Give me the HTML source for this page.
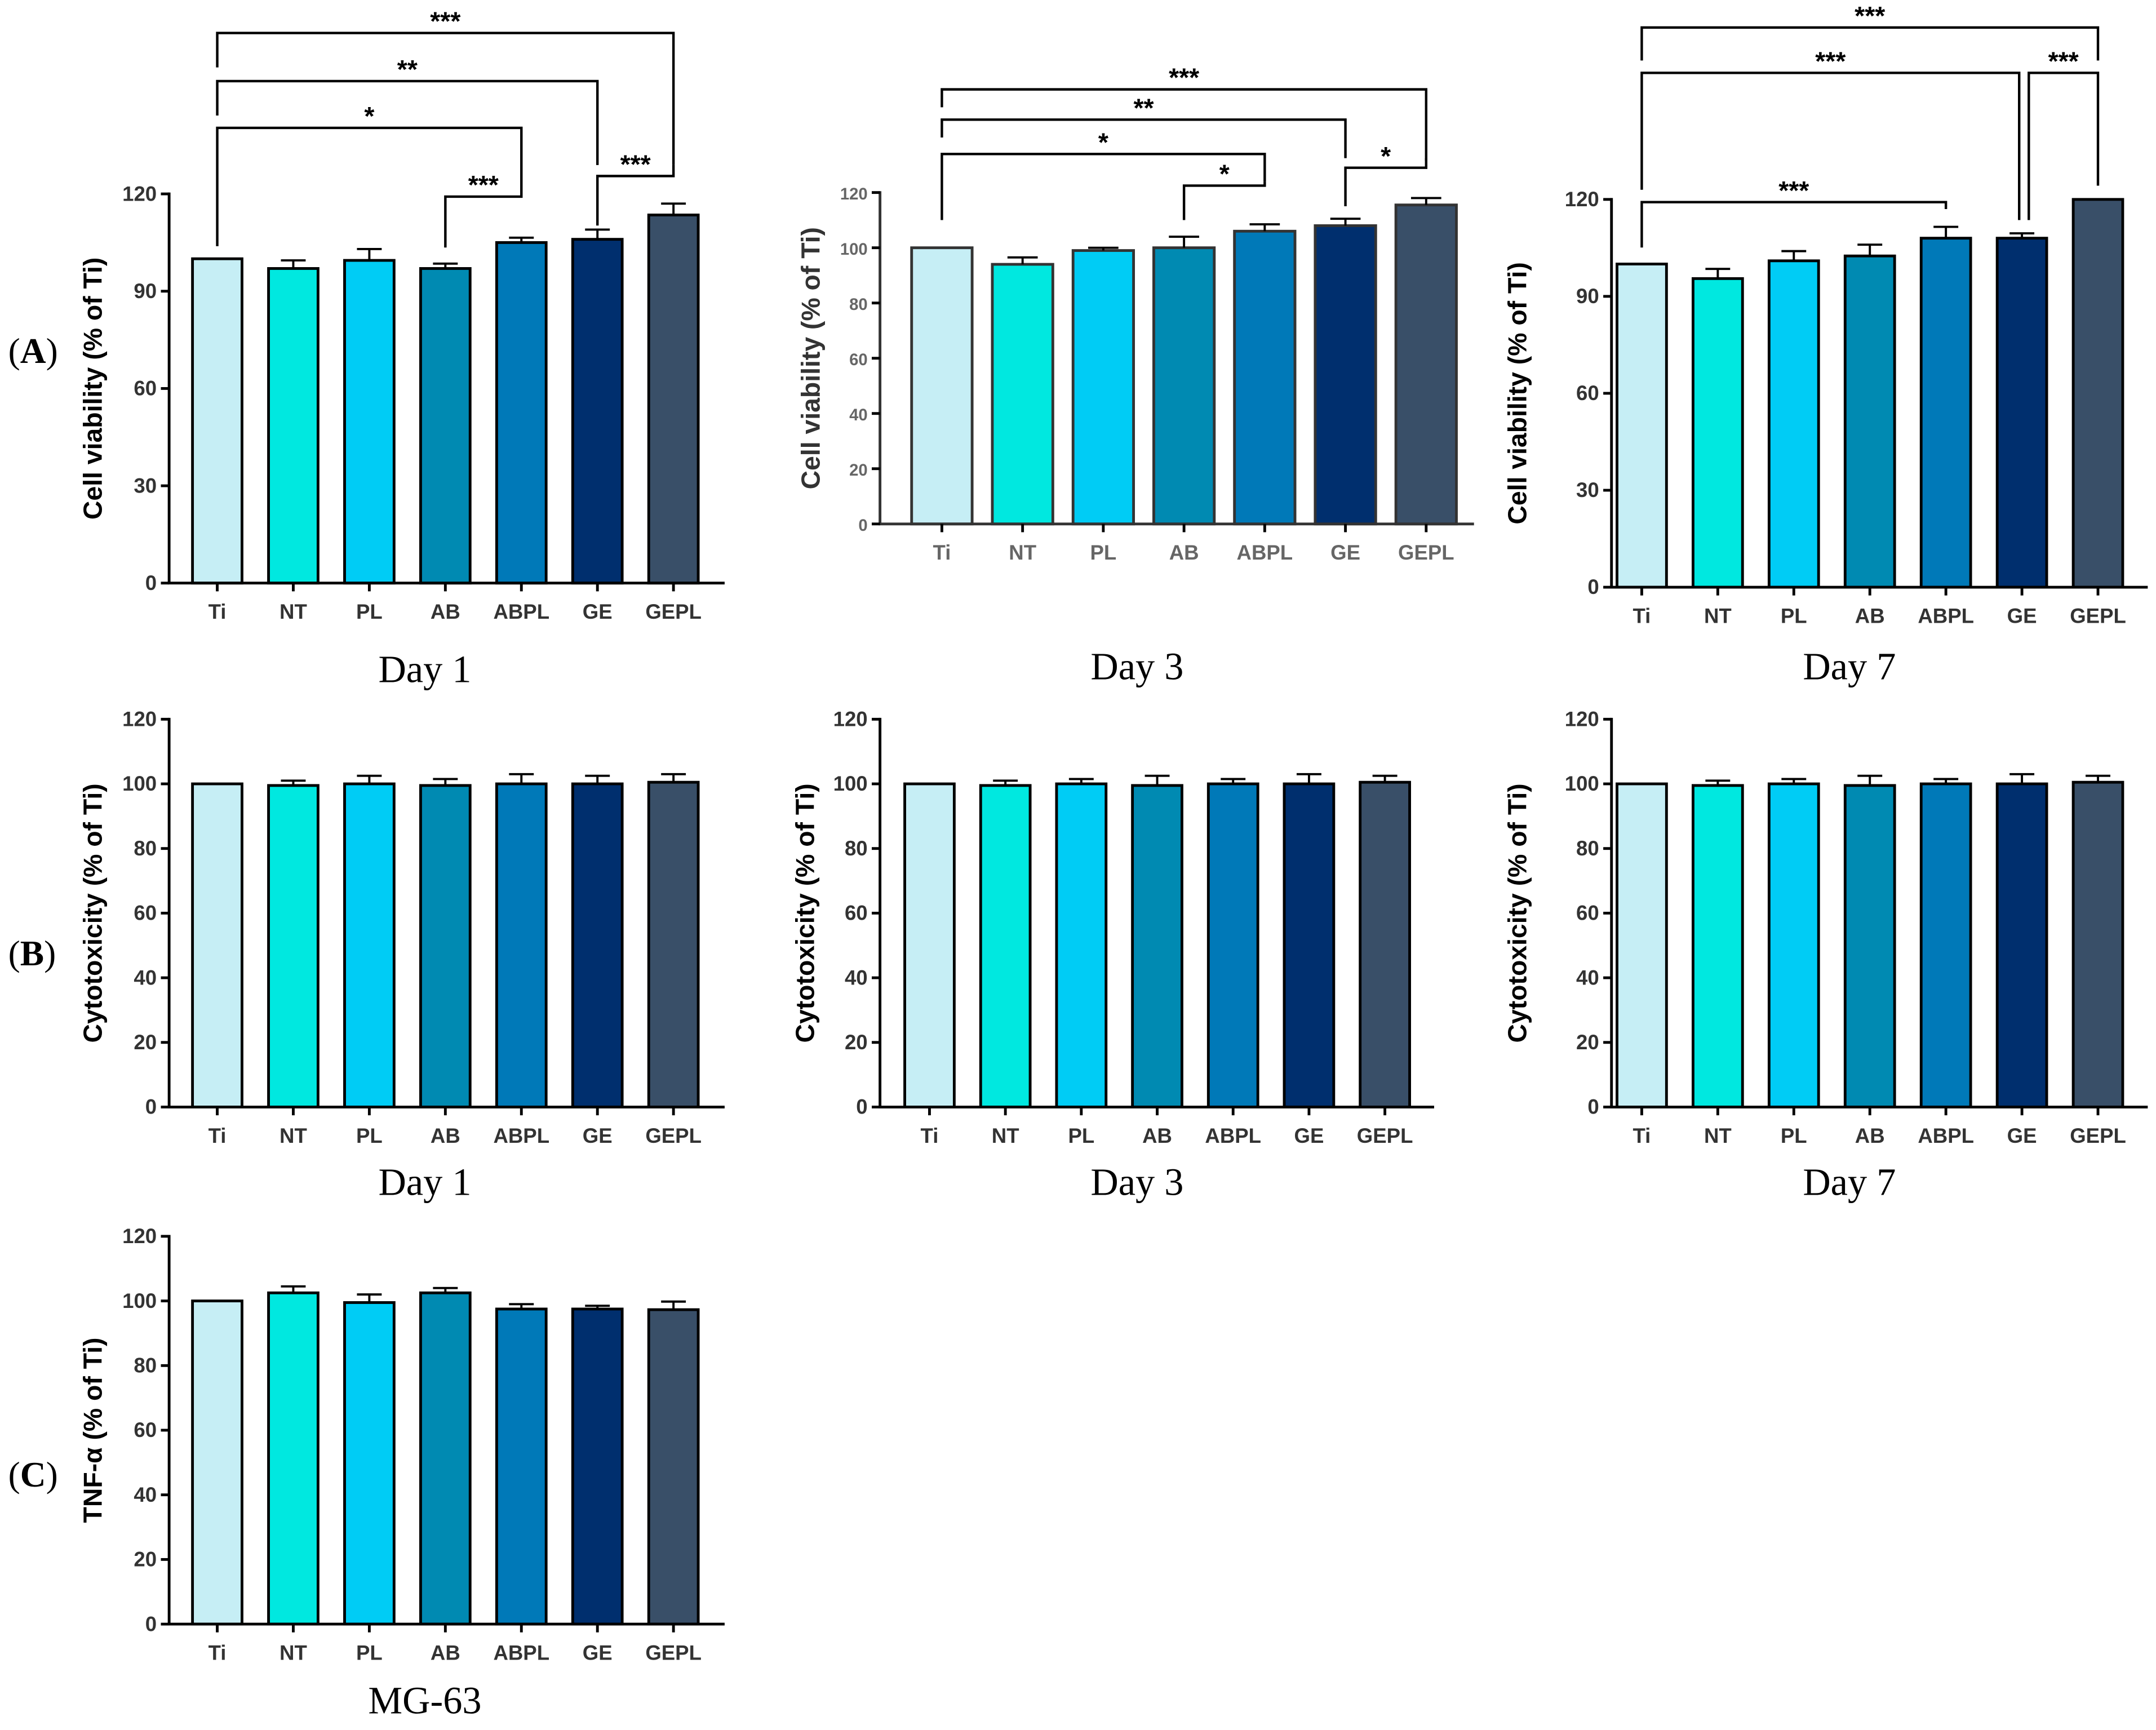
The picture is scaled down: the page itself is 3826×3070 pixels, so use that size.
<!DOCTYPE html>
<html><head><meta charset="utf-8"><style>
html,body{margin:0;padding:0;background:#fff;}
svg{display:block;}
</style></head><body>
<svg id="fig" width="3826" height="3070" viewBox="0 0 1568 1258" preserveAspectRatio="none" xmlns="http://www.w3.org/2000/svg"></svg>
<script>
const categories = ["Ti","NT","PL","AB","ABPL","GE","GEPL"];
const colors = ["#c6eef5","#00e8e0","#00ccf5","#008ab2","#0079b8","#002f6e","#394f68"];
const viabDay1 = [100,97,99.5,97,105,106,113.5];
const viabDay1Err = [0,2.5,3.5,1.5,1.5,3,3.5];
const viabDay3 = [100,94,99,100,106,108,115.5];
const viabDay3Err = [0,2.5,1,4,2.5,2.5,2.5];
const viabDay7 = [100,95.5,101,102.5,108,108,120];
const viabDay7Err = [0,3,3,3.5,3.5,1.5,0];
const cytoDay1 = [100,99.5,100,99.5,100,100,100.5];
const cytoDay1Err = [0,1.5,2.5,2,3,2.5,2.5];
const cytoDay3 = [100,99.5,100,99.5,100,100,100.5];
const cytoDay3Err = [0,1.5,1.5,3,1.5,3,2];
const cytoDay7 = [100,99.5,100,99.5,100,100,100.5];
const cytoDay7Err = [0,1.5,1.5,3,1.5,3,2];
const tnf = [100,102.5,99.5,102.5,97.5,97.5,97.3];
const tnfErr = [0,2,2.5,1.5,1.5,1,2.5];
const ticks30 = [0,30,60,90,120];
const ticks20 = [0,20,40,60,80,100,120];

const NS="http://www.w3.org/2000/svg";
const svg=document.getElementById('fig');
function mk(tag,attrs,parent){const e=document.createElementNS(NS,tag);for(const k in attrs)e.setAttribute(k,attrs[k]);(parent||svg).appendChild(e);return e;}

function chart(o){
  const g=mk('g',{});
  
  
  const y=v=>o.y0-(v/120)*(o.y0-o.y120);
  const x=i=>o.x0+i*o.step;
  const tc=o.blur?'#666':'#333';
  o.vals.forEach((v,i)=>{
    const r=mk('rect',{x:x(i)-o.bw/2,y:y(v),width:o.bw,height:o.y0-y(v),fill:colors[i],stroke:o.blur?'#333':'#000','stroke-width':2},g);
    
    
    if(o.errs[i]>0){
      const ey=y(v+o.errs[i]);
      mk('line',{x1:x(i),x2:x(i),y1:y(v),y2:ey,stroke:'#000','stroke-width':1.6},g);
      mk('line',{x1:x(i)-o.bw*0.25,x2:x(i)+o.bw*0.25,y1:ey,y2:ey,stroke:'#000','stroke-width':1.6},g);
    }
  });
  const ax=mk('path',{d:`M${o.ax},${o.y120-1}V${o.y0}H${o.axEnd}`,fill:'none',stroke:o.blur?'#333':'#000','stroke-width':2},g);
  
  
  o.ticks.forEach(t=>{
    mk('line',{x1:o.ax-6,x2:o.ax,y1:y(t),y2:y(t),stroke:'#000','stroke-width':2},g);
    const tt=mk('text',{x:o.ax-9,y:y(t)+5,'text-anchor':'end','font-family':'Liberation Sans, sans-serif','font-weight':'bold','font-size':o.blur?12:15,fill:tc},g);
    tt.textContent=t;
    
    
  });
  categories.forEach((c,i)=>{
    mk('line',{x1:x(i),x2:x(i),y1:o.y0,y2:o.y0+6,stroke:'#000','stroke-width':2},g);
    const tt=mk('text',{x:x(i),y:o.y0+26,'text-anchor':'middle','font-family':'Liberation Sans, sans-serif','font-weight':'bold','font-size':15,fill:tc},g);
    tt.textContent=c;
    
    
  });
  const yl=mk('text',{x:0,y:0,transform:`translate(${o.ylx},${(o.y0+o.y120)/2}) rotate(-90)`,'text-anchor':'middle','font-family':'Liberation Sans, sans-serif','font-weight':'bold','font-size':19,fill:o.blur?'#333':'#000'},g);
  yl.textContent=o.ylabel;
  
  
  const dl=mk('text',{x:o.dayX,y:o.dayY,'text-anchor':'middle','font-family':'Liberation Serif, serif','font-size':28,fill:'#000'},g);
  dl.textContent=o.day;
  
  
  (o.brackets||[]).forEach(b=>{
    const xa=x(b[0])+(b[6]||0), xb=x(b[1])+(b[7]||0);
    const p=mk('path',{d:`M${xa},${b[3]}V${b[2]}H${xb}V${b[4]}`,fill:'none',stroke:'#000','stroke-width':1.8},g);
    
    
    const s=mk('text',{x:(xa+xb)/2,y:b[2]-2,'text-anchor':'middle','font-family':'Liberation Sans, sans-serif','font-weight':'bold','font-size':19,fill:'#000'},g);
    s.textContent=b[5];
    
    
  });
}

chart({name:'chart-a-day1',vals:viabDay1,errs:viabDay1Err,ticks:ticks30,x0:158,step:55.3,bw:36,ax:123,axEnd:527,y0:424,y120:141,ylx:74,ylabel:'Cell viability (% of Ti)',day:'Day 1',dayX:309,dayY:496,
  brackets:[[0,6,24,49,120,'***'],[0,5,59,84,120,'**'],[0,4,93,179,134,'*'],[3,4,143,180,134,'***'],[5,6,128,164,120,'***']]});
chart({name:'chart-a-day3',blur:true,vals:viabDay3,errs:viabDay3Err,ticks:ticks20,x0:685,step:58.7,bw:44,ax:640,axEnd:1072,y0:381,y120:140,ylx:596,ylabel:'Cell viability (% of Ti)',day:'Day 3',dayX:827,dayY:494,
  brackets:[[0,6,65,78,117,'***'],[0,5,87,100,115,'**'],[0,4,112,160,132,'*'],[3,4,135,160,132,'*'],[5,6,122,150,115,'*']]});
chart({name:'chart-a-day7',vals:viabDay7,errs:viabDay7Err,ticks:ticks30,x0:1194,step:55.3,bw:36,ax:1172,axEnd:1562,y0:427,y120:145,ylx:1110,ylabel:'Cell viability (% of Ti)',day:'Day 7',dayX:1345,dayY:494,
  brackets:[[0,6,20,44,44,'***'],[0,5,53,138,160,'***',0,-2],[5,6,53,160,135,'***',5,0],[0,4,147,180,152,'***']]});
chart({name:'chart-b-day1',vals:cytoDay1,errs:cytoDay1Err,ticks:ticks20,x0:158,step:55.3,bw:36,ax:123,axEnd:527,y0:805,y120:523,ylx:74,ylabel:'Cytotoxicity (% of Ti)',day:'Day 1',dayX:309,dayY:869});
chart({name:'chart-b-day3',vals:cytoDay3,errs:cytoDay3Err,ticks:ticks20,x0:676,step:55.2,bw:36,ax:640,axEnd:1043,y0:805,y120:523,ylx:592,ylabel:'Cytotoxicity (% of Ti)',day:'Day 3',dayX:827,dayY:869});
chart({name:'chart-b-day7',vals:cytoDay7,errs:cytoDay7Err,ticks:ticks20,x0:1194,step:55.3,bw:36,ax:1172,axEnd:1562,y0:805,y120:523,ylx:1110,ylabel:'Cytotoxicity (% of Ti)',day:'Day 7',dayX:1345,dayY:869});
chart({name:'chart-c-tnf',vals:tnf,errs:tnfErr,ticks:ticks20,x0:158,step:55.3,bw:36,ax:123,axEnd:527,y0:1181,y120:899,ylx:74,ylabel:'TNF-α (% of Ti)',day:'MG-63',dayX:309,dayY:1246});

[['(A)',264],['(B)',702],['(C)',1081]].forEach(p=>{
  const t=mk('text',{x:6,y:p[1],'font-family':'Liberation Serif, serif','font-size':26,fill:'#000'});
  t.innerHTML=p[0].replace(/([ABC])/,'<tspan font-weight="bold">$1</tspan>');
  
  
});
</script>
</body></html>
